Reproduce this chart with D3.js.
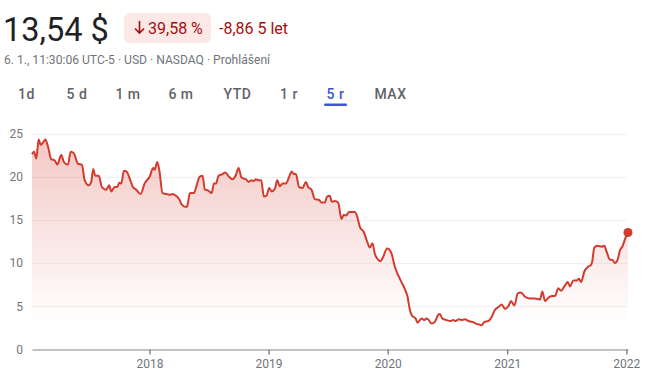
<!DOCTYPE html>
<html>
<head>
<meta charset="utf-8">
<script src="https://cdn.jsdelivr.net/npm/d3@7"></script>
<style>
  html, body { margin: 0; padding: 0; background: #fff; }
  svg { display: block; font-family: Roboto, Arial, sans-serif; }
</style>
</head>
<body>
<svg id="chart" width="650" height="383"></svg>
<script>
// ---- data (decimal years, price in USD) ----
const years = [
  2017.014, 2017.031, 2017.050, 2017.070, 2017.087, 2017.104, 2017.126, 2017.148, 2017.176, 2017.204,
  2017.226, 2017.260, 2017.282, 2017.316, 2017.339, 2017.366, 2017.400, 2017.433, 2017.456, 2017.490,
  2017.511, 2017.528, 2017.545, 2017.574, 2017.601, 2017.637, 2017.662, 2017.679, 2017.708, 2017.730,
  2017.746, 2017.763, 2017.786, 2017.808, 2017.834, 2017.861, 2017.889, 2017.926, 2017.959, 2018.001,
  2018.032, 2018.043, 2018.065, 2018.082, 2018.110, 2018.144, 2018.172, 2018.194, 2018.222, 2018.250,
  2018.270, 2018.306, 2018.317, 2018.340, 2018.373, 2018.396, 2018.423, 2018.446, 2018.465, 2018.493,
  2018.522, 2018.541, 2018.558, 2018.580, 2018.614, 2018.636, 2018.661, 2018.698, 2018.725, 2018.748,
  2018.773, 2018.809, 2018.832, 2018.857, 2018.876, 2018.893, 2018.916, 2018.938, 2018.960, 2018.983,
  2019.005, 2019.025, 2019.053, 2019.072, 2019.095, 2019.117, 2019.145, 2019.173, 2019.193, 2019.212,
  2019.229, 2019.256, 2019.285, 2019.313, 2019.332, 2019.360, 2019.388, 2019.424, 2019.444, 2019.472,
  2019.491, 2019.514, 2019.531, 2019.556, 2019.584, 2019.612, 2019.631, 2019.648, 2019.676, 2019.724,
  2019.743, 2019.766, 2019.799, 2019.822, 2019.850, 2019.872, 2019.891, 2019.919, 2019.939, 2019.961,
  2019.995, 2020.011, 2020.032, 2020.059, 2020.087, 2020.115, 2020.143, 2020.166, 2020.185, 2020.204,
  2020.233, 2020.250, 2020.283, 2020.305, 2020.325, 2020.344, 2020.367, 2020.395, 2020.422, 2020.437,
  2020.456, 2020.493, 2020.521, 2020.548, 2020.568, 2020.596, 2020.619, 2020.646, 2020.674, 2020.708,
  2020.736, 2020.764, 2020.787, 2020.808, 2020.842, 2020.871, 2020.898, 2020.926, 2020.954, 2020.982,
  2021.010, 2021.032, 2021.060, 2021.089, 2021.116, 2021.150, 2021.192, 2021.234, 2021.276, 2021.295,
  2021.318, 2021.345, 2021.374, 2021.402, 2021.429, 2021.452, 2021.480, 2021.508, 2021.527, 2021.555,
  2021.584, 2021.603, 2021.620, 2021.647, 2021.681, 2021.704, 2021.714, 2021.731, 2021.760, 2021.793,
  2021.815, 2021.835, 2021.863, 2021.882, 2021.905, 2021.927, 2021.947, 2021.966, 2021.995, 2022.014
];
const prices = [
  22.6, 22.9, 22.1, 24.3, 23.7, 23.9, 24.3, 23.5, 22.0, 21.9,
  21.4, 22.5, 21.7, 21.4, 22.9, 22.7, 21.5, 21.4, 19.6, 19.0,
  19.4, 20.9, 20.1, 20.1, 18.8, 18.5, 19.0, 18.3, 18.8, 18.8,
  19.3, 19.2, 20.7, 20.6, 19.8, 18.8, 18.5, 18.0, 19.2, 20.0,
  21.0, 20.8, 21.7, 20.8, 18.1, 18.0, 17.9, 18.0, 17.8, 17.4,
  16.8, 16.5, 16.6, 18.1, 18.1, 19.0, 20.0, 20.1, 18.5, 18.4,
  18.1, 19.2, 19.2, 20.1, 20.3, 20.5, 20.1, 19.7, 20.2, 21.0,
  19.9, 19.7, 19.4, 19.6, 19.5, 19.7, 19.6, 19.6, 17.7, 17.8,
  18.7, 18.3, 18.6, 19.6, 18.9, 19.2, 19.2, 20.0, 20.6, 20.3,
  20.3, 18.8, 18.7, 19.4, 18.8, 18.5, 17.4, 17.3, 17.0, 17.0,
  17.7, 17.8, 17.1, 17.2, 17.0, 15.1, 15.6, 15.5, 15.9, 15.9,
  15.4, 14.2, 13.6, 12.7, 11.8, 12.3, 11.1, 10.4, 10.2, 10.7,
  11.7, 11.6, 11.1, 9.6, 8.6, 7.8, 7.0, 6.1, 4.6, 3.9,
  3.6, 3.1, 3.6, 3.4, 3.6, 3.4, 3.0, 3.2, 4.0, 4.1,
  3.6, 3.4, 3.3, 3.4, 3.3, 3.5, 3.4, 3.5, 3.3, 3.2,
  3.0, 2.9, 2.8, 3.2, 3.3, 3.8, 4.6, 4.9, 5.2, 4.7,
  5.0, 5.6, 5.1, 6.5, 6.6, 6.1, 5.9, 5.9, 5.8, 6.7,
  5.6, 6.0, 6.2, 6.2, 7.1, 6.8, 7.3, 7.8, 7.3, 8.0,
  8.0, 8.2, 7.8, 9.0, 9.6, 9.8, 10.2, 11.8, 12.0, 11.9,
  12.0, 11.3, 10.4, 10.4, 10.0, 10.4, 11.5, 11.9, 13.0, 13.54
];
const yTicks = [0, 5, 10, 15, 20, 25];
const xTickYears = [2018, 2019, 2020, 2021, 2022];
const tabLabels = ["1d", "5 d", "1 m", "6 m", "YTD", "1 r", "5 r", "MAX"];
const selectedTab = "5 r";
const priceLabel = "13,54 $";
const changePct = "39,58 %";
const changeAbs = "-8,86 5 let";
const subtitle = "6. 1., 11:30:06 UTC-5 · USD · NASDAQ · Prohlášení";

// ---- helpers ----
function toDate(y) {
  const yr = Math.floor(y);
  const start = Date.UTC(yr, 0, 1), end = Date.UTC(yr + 1, 0, 1);
  return new Date(start + (y - yr) * (end - start));
}
const data = years.map((y, i) => ({ date: toDate(y), value: prices[i] }));

const svg = d3.select("#chart");
const RED = "#d23b2e";

// ---- header ----
svg.append("text").attr("x", 3).attr("y", 41)
  .attr("font-size", 32.5).attr("fill", "#202124").text(priceLabel);

const badge = svg.append("g");
badge.append("rect").attr("x", 124).attr("y", 13).attr("width", 87).attr("height", 30)
  .attr("rx", 6).attr("fill", "#fce8e6");
badge.append("path")
  .attr("d", "M139.5 21 L139.5 33 M135 28.5 L139.5 33 L144 28.5")
  .attr("stroke", "#a50e0e").attr("stroke-width", 1.6).attr("fill", "none");
badge.append("text").attr("x", 148).attr("y", 34)
  .attr("font-size", 16).attr("fill", "#a50e0e").text(changePct);
svg.append("text").attr("x", 219).attr("y", 34)
  .attr("font-size", 16).attr("fill", "#a50e0e").text(changeAbs);

svg.append("text").attr("x", 4).attr("y", 64)
  .attr("font-size", 12.1).attr("fill", "#70757a").text(subtitle);

// tabs
const tabCenters = [26.5, 77, 128, 181, 237.5, 289, 335.5, 390.5];
tabLabels.forEach((t, i) => {
  const sel = t === selectedTab;
  svg.append("text").attr("x", tabCenters[i]).attr("y", 99)
    .attr("text-anchor", "middle").attr("font-size", 14).attr("font-weight", 500)
    .attr("letter-spacing", 0.5)
    .attr("fill", sel ? "#3c56d3" : "#5f6368").text(t);
  if (sel) {
    svg.append("rect").attr("x", tabCenters[i] - 11.5).attr("y", 103.5)
      .attr("width", 23).attr("height", 2.5).attr("rx", 1.2).attr("fill", "#3c56d3");
  }
});

// ---- chart ----
const x = d3.scaleUtc()
  .domain([data[0].date, data[data.length - 1].date])
  .range([32, 628]);
const y = d3.scaleLinear().domain([0, 25]).range([349.5, 133.5]);

const defs = svg.append("defs");
const grad = defs.append("linearGradient").attr("id", "areaGrad")
  .attr("gradientUnits", "userSpaceOnUse")
  .attr("x1", 0).attr("x2", 0).attr("y1", y(24.5)).attr("y2", y(3));
grad.append("stop").attr("offset", 0).attr("stop-color", RED).attr("stop-opacity", 0.28);
grad.append("stop").attr("offset", 1).attr("stop-color", RED).attr("stop-opacity", 0);

// gridlines
svg.append("g").selectAll("line").data(yTicks.filter(d => d > 0)).join("line")
  .attr("x1", 32).attr("x2", 627)
  .attr("y1", d => Math.round(y(d)) + 0.5).attr("y2", d => Math.round(y(d)) + 0.5)
  .attr("stroke", "#f1f1f1").attr("stroke-width", 1);

// y labels
svg.append("g").selectAll("text").data(yTicks).join("text")
  .attr("x", 23).attr("y", d => y(d)).attr("dy", "0.35em")
  .attr("text-anchor", "end").attr("font-size", 12).attr("fill", "#70757a")
  .text(d => d);

// area
const area = d3.area().x(d => x(d.date)).y0(y(0)).y1(d => y(d.value)).curve(d3.curveMonotoneX);
svg.append("path").datum(data).attr("d", area).attr("fill", "url(#areaGrad)");

// baseline axis
const xAxis = d3.axisBottom(x)
  .tickValues(xTickYears.map(v => new Date(Date.UTC(v, 0, 1))))
  .tickFormat(d3.utcFormat("%Y"))
  .tickSizeInner(5).tickSizeOuter(0).tickPadding(5);
const gx = svg.append("g").attr("transform", `translate(0,${Math.round(y(0)) - 0.5})`).call(xAxis);
gx.select(".domain").attr("stroke", "#80868b").attr("stroke-width", 1);
gx.selectAll(".tick line").attr("stroke", "#80868b").attr("stroke-width", 1.5);
gx.selectAll(".tick text").attr("font-size", 12).attr("fill", "#70757a")
  .attr("font-family", "Roboto, Arial, sans-serif");

// line
const line = d3.line().x(d => x(d.date)).y(d => y(d.value)).curve(d3.curveMonotoneX);
svg.append("path").datum(data).attr("d", line)
  .attr("fill", "none").attr("stroke", RED).attr("stroke-width", 2)
  .attr("stroke-linejoin", "round");

// end dot
const last = data[data.length - 1];
svg.append("circle").attr("cx", x(last.date)).attr("cy", y(last.value)).attr("r", 4.5)
  .attr("fill", RED);
</script>
</body>
</html>
